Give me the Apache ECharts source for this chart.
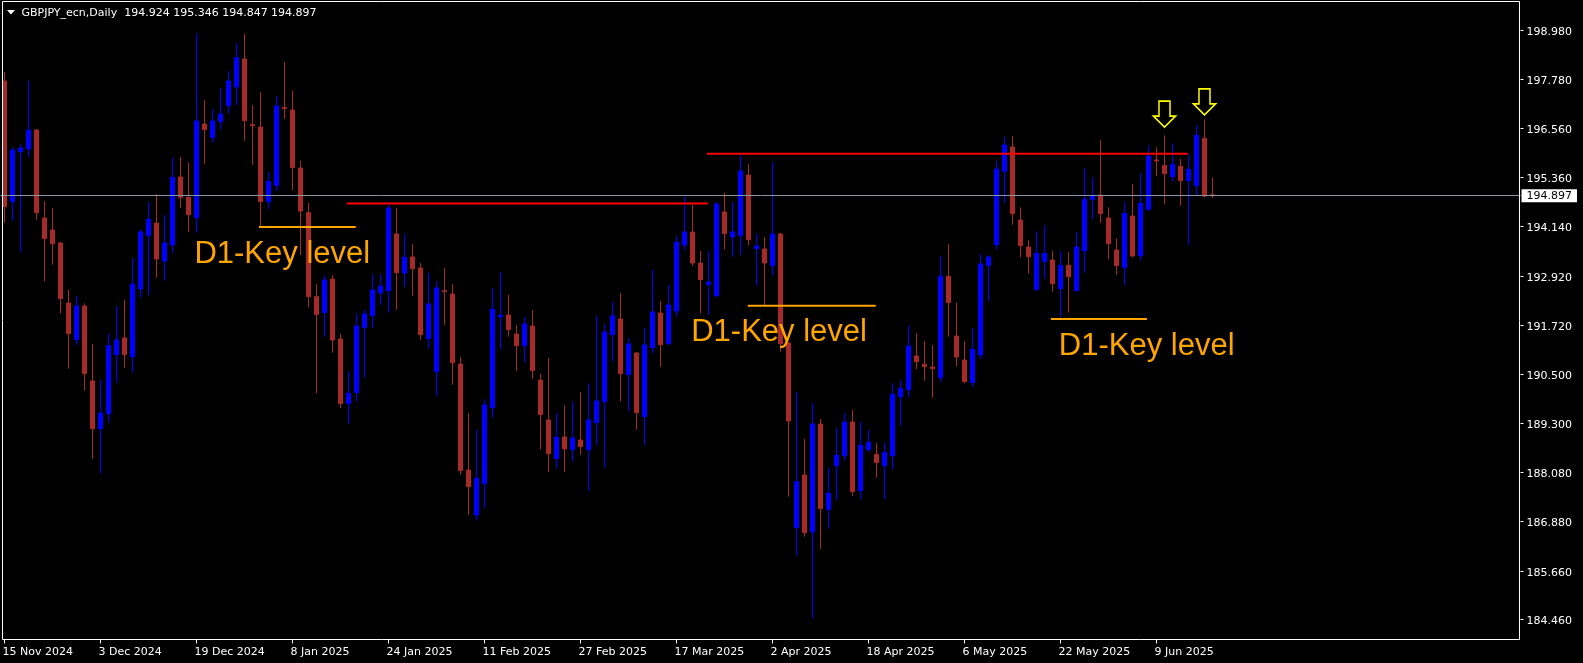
<!DOCTYPE html>
<html><head><meta charset="utf-8">
<script src="https://cdn.jsdelivr.net/npm/echarts@6/dist/echarts.min.js"></script>
<style>html,body{margin:0;padding:0;background:#000;overflow:hidden}#c{width:1583px;height:663px;}</style>
</head><body><div id="c"></div>
<script>
const titleText = 'GBPJPY_ecn,Daily  194.924 195.346 194.847 194.897';
const opens = [197.725,194.753,195.984,196.05,196.518,194.35,194.055,193.735,192.257,191.354,
192.183,190.336,189.162,189.531,190.984,191.395,190.935,192.602,193.915,194.227,
193.291,193.685,195.36,194.859,194.359,196.665,196.329,196.723,197.117,197.577,
198.266,196.657,196.592,194.752,195.147,197.076,197.01,195.582,194.482,192.413,
192.019,192.849,191.371,189.78,190.049,191.658,191.946,192.504,192.561,193.957,
192.996,193.39,193.12,191.379,190.566,192.561,192.479,190.755,188.144,187.036,
187.808,189.68,191.913,191.962,191.494,191.207,191.691,190.361,189.376,188.424,
188.957,188.645,188.883,188.645,189.31,189.827,191.478,191.864,190.493,191.026,
189.458,191.157,192.011,191.256,192.06,193.686,194.006,193.242,192.709,192.438,
194.499,193.883,193.916,195.41,193.596,193.587,193.177,193.957,191.272,186.724,
188.021,186.617,189.277,187.175,188.251,188.497,189.326,187.635,188.645,188.53,
188.251,188.497,189.95,190.123,190.952,190.746,190.681,190.418,192.914,191.444,
190.853,190.3,190.976,193.184,193.693,195.5,196.099,194.301,193.636,192.585,
193.283,193.316,192.61,193.184,192.561,193.546,194.81,194.917,194.35,193.562,
193.127,194.4,193.423,194.565,195.78,195.648,195.369,195.624,195.271,195.147,
196.313,194.924];
const highs = [197.95,196.091,196.173,197.725,196.543,194.77,194.597,193.76,192.577,192.43,
192.249,191.247,190.36,191.493,192.183,192.33,193.365,194.071,194.745,194.942,
194.424,195.828,195.853,195.721,198.899,197.257,197.035,197.552,197.971,198.661,
198.882,197.133,197.454,195.483,197.355,198.192,197.487,195.762,194.728,192.725,
192.939,192.939,191.494,190.575,191.987,192.085,192.972,192.972,194.671,194.597,
193.973,193.711,193.243,192.996,192.799,193.12,192.725,190.928,189.548,189.13,
189.885,192.627,193.021,192.455,191.716,191.905,192.085,190.509,190.903,189.54,
189.729,189.819,190.066,190.279,191.937,191.74,192.282,192.504,191.396,191.05,
191.65,193.07,192.307,192.701,193.908,194.868,194.671,193.538,193.538,194.729,
194.967,194.745,195.911,195.681,193.957,193.883,195.73,193.981,191.3,190.065,
188.908,189.794,189.4,188.202,189.178,189.54,189.622,189.326,189.129,188.801,
188.826,190.287,190.352,191.691,191.51,191.321,191.214,193.415,193.71,192.274,
191.313,191.641,193.464,193.431,195.754,196.345,196.37,194.613,193.808,194.022,
194.17,193.538,193.538,193.513,194.006,195.574,195.352,196.271,194.613,193.849,
194.753,195.188,195.451,196.141,196.092,196.387,196.19,195.804,195.927,196.633,
196.781,195.346];
const lows = [194.235,194.285,193.521,195.845,194.31,192.783,193.201,191.994,190.64,191.223,
190.098,188.423,188.054,189.31,190.295,190.664,190.541,192.388,192.454,192.881,
192.807,193.48,194.605,194.014,193.989,195.68,196.206,196.526,196.92,197.133,
196.255,195.656,194.137,194.572,195.015,196.789,195.04,193.439,192.15,190.032,
191.428,191.034,189.671,189.286,189.827,190.418,191.65,192.208,192.019,192.093,
192.652,192.438,191.354,191.124,189.975,191.724,190.246,188.029,187.036,186.9,
187.217,189.434,191.108,191.428,190.591,190.788,190.394,188.645,188.103,188.177,
188.103,188.35,188.522,187.635,188.76,188.202,190.813,189.827,189.598,189.138,
188.752,191.018,190.689,191.207,191.921,193.563,193.169,191.995,191.962,192.389,
193.571,193.39,193.44,193.669,192.684,192.192,192.931,191.059,187.487,186.034,
186.502,184.5,186.2,186.7,187.4,188.374,187.512,187.421,188.587,187.955,
187.421,188.161,189.236,189.934,190.623,190.344,189.926,190.295,191.428,190.7,
190.279,190.2,190.878,192.29,193.57,194.728,194.186,193.381,192.979,192.561,
192.856,192.536,191.896,192.019,192.561,192.996,194.334,194.235,193.332,192.955,
192.684,193.382,193.3,194.524,195.385,194.696,195.246,194.655,193.686,194.901,
194.852,194.847];
const closes = [194.63,196.025,196.075,196.518,194.482,193.842,193.718,192.364,191.502,192.183,
190.516,189.162,189.548,191.206,191.346,190.984,192.725,194.006,194.318,193.341,
193.735,195.352,194.851,194.432,196.739,196.526,196.739,196.912,197.725,198.299,
196.748,196.624,194.752,195.253,197.109,197.043,195.59,194.523,192.413,191.97,
192.824,191.346,189.78,190.033,191.691,191.987,192.578,192.676,194.597,193.005,
193.382,193.103,191.478,192.233,192.627,192.537,190.788,188.128,187.734,187.94,
189.745,192.102,191.954,191.601,191.207,191.74,190.591,189.507,188.547,188.949,
188.662,188.933,188.719,189.376,189.844,191.543,191.937,190.517,191.248,189.556,
191.223,192.036,191.231,192.208,193.76,194.006,193.242,192.832,192.775,194.696,
193.965,194.006,195.508,193.817,193.661,193.242,193.957,191.256,189.351,187.857,
186.601,189.277,187.191,187.57,188.505,189.326,187.61,188.752,188.826,188.325,
188.579,190.008,190.156,191.198,190.812,190.689,190.64,192.914,192.265,190.927,
190.319,191.116,193.217,193.39,195.557,196.148,194.457,193.669,193.398,193.48,
193.48,192.733,193.184,192.905,193.636,194.81,194.908,194.457,193.718,193.176,
194.465,193.415,194.712,195.878,195.755,195.443,195.673,195.271,195.55,196.387,
194.893,194.897];
const dateTickLabels = ['15 Nov 2024','3 Dec 2024','19 Dec 2024','8 Jan 2025','24 Jan 2025','11 Feb 2025','27 Feb 2025','17 Mar 2025','2 Apr 2025','18 Apr 2025','6 May 2025','22 May 2025','9 Jun 2025'];
const priceTickLabels = ['198.980','197.780','196.560','195.360','194.140','192.920','191.720','190.500','189.300','188.080','186.880','185.660','184.460'];
const barsPerDateTick = 12;
const totalSlots = 190;
const lastPrice = 194.897;
// [fromBar, toBar, price]
const redLines = [[42.8, 87.9, 194.71], [87.8, 147.9, 195.93]];
const keyLevelLines = [[31.8, 43.9, 194.13], [92.9, 108.9, 192.19], [130.8, 142.8, 191.86]];
// [bar, price] of text left / vertical middle
const keyLevelTexts = [[23.8, 193.44], [85.9, 191.51], [131.85, 191.17]];
const keyLevelText = 'D1-Key level';
const arrowMarks = [[145, 196.91], [150, 197.21]];

const categories = [];
for (let i = 0; i < totalSlots; i++) {
  const k = i / barsPerDateTick;
  categories.push(i % barsPerDateTick === 0 && k < dateTickLabels.length ? dateTickLabels[k] : '');
}
const candleData = opens.map((o, i) => [o, closes[i], lows[i], highs[i]]);
// MT4 draws its price-scale texts about 2px below the exact price level
const labelDrop = 0.05;
const priceTickPositions = priceTickLabels.map(s => Number(s) - labelDrop);
const priceLabelFor = v => {
  let best = priceTickLabels[0], d = Infinity;
  priceTickLabels.forEach(s => { const dd = Math.abs(Number(s) - labelDrop - v); if (dd < d) { d = dd; best = s; } });
  return best;
};

const font = 'DejaVu Sans';
const series = [{
  type: 'candlestick',
  data: candleData,
  barWidth: 4,
  itemStyle: { color: '#0000FF', color0: '#A52A2A', borderColor: '#0000FF', borderColor0: '#A52A2A', borderWidth: 1 },
  markLine: {
    silent: true, symbol: 'none', animation: false,
    lineStyle: { color: '#8896A6', width: 1, type: 'solid' },
    label: { position: 'end', distance: 1, formatter: () => lastPrice.toFixed(3), backgroundColor: '#ffffff', color: '#000', fontFamily: font, fontSize: 11, lineHeight: 11, padding: [2, 5, 0, 5] },
    data: [{ yAxis: lastPrice }]
  }
}];
redLines.forEach(l => series.push({ type: 'line', xAxisIndex: 1, symbol: 'none', silent: true, lineStyle: { color: '#FF0000', width: 2 }, data: [[l[0], l[2]], [l[1], l[2]]], z: 5 }));
keyLevelLines.forEach(l => series.push({ type: 'line', xAxisIndex: 1, symbol: 'none', silent: true, lineStyle: { color: '#FFA500', width: 2 }, data: [[l[0], l[2]], [l[1], l[2]]], z: 5 }));
series.push({
  type: 'scatter', xAxisIndex: 1, symbolSize: 1, silent: true, z: 6,
  itemStyle: { color: 'rgba(0,0,0,0)', opacity: 1 },
  label: { show: true, formatter: keyLevelText, position: [0, 0], align: 'left', verticalAlign: 'middle', color: '#FFA500', textBorderWidth: 0, textBorderColor: 'transparent', opacity: 1, fontFamily: 'Liberation Sans', fontSize: 31 },
  data: keyLevelTexts
});
series.push({
  type: 'scatter', xAxisIndex: 1, silent: true, z: 7,
  symbol: 'path://M5.5 0 L16.5 0 L16.5 15 L22 15 L11 26 L0 15 L5.5 15 Z',
  symbolSize: [22, 26],
  itemStyle: { color: 'rgba(0,0,0,0)', borderColor: '#FFFF00', borderWidth: 1.6, opacity: 1 },
  data: arrowMarks
});

const chart = echarts.init(document.getElementById('c'), null, { renderer: 'canvas' });
chart.setOption({
  backgroundColor: '#000',
  animation: false,
  grid: { left: 0.5, top: 1.5, width: 1520, height: 638, containLabel: false, outerBoundsMode: 'none' },
  xAxis: [{
    type: 'category', data: categories, boundaryGap: true,
    axisLine: { show: false, onZero: false },
    axisTick: { show: true, alignWithLabel: true, length: 4, lineStyle: { color: '#fff' }, interval: (i) => categories[i] !== '' },
    axisLabel: { interval: 0, align: 'left', margin: 7, padding: [0, 0, 0, -2], color: '#fff', fontFamily: font, fontSize: 11 },
    splitLine: { show: false }
  }, {
    type: 'value', show: false, min: -0.5, max: totalSlots - 0.5,
    axisLine: { onZero: false }
  }],
  yAxis: {
    type: 'value', position: 'right', min: 183.969, max: 199.683, scale: true,
    axisLine: { show: false, onZero: false },
    splitLine: { show: false },
    axisTick: { show: true, length: 3, lineStyle: { color: '#fff' }, customValues: priceTickLabels.map(Number) },
    axisLabel: { color: '#fff', fontFamily: font, fontSize: 11, margin: 6, customValues: priceTickPositions, formatter: v => priceLabelFor(Number(v)) }
  },
  title: { text: titleText, left: 21.5, top: 6.5, padding: 0, textStyle: { color: '#fff', fontFamily: font, fontSize: 11, fontWeight: 'normal', lineHeight: 13 } },
  graphic: [
    { type: 'rect', z: 100, silent: true, shape: { x: 2.5, y: 1.5, width: 1517, height: 638 }, style: { fill: null, stroke: '#fff', lineWidth: 1 } },
    { type: 'polygon', z: 100, silent: true, shape: { points: [[7, 10], [15, 10], [11, 14.5]] }, style: { fill: '#fff' } }
  ],
  series: series
});
</script>
</body></html>
